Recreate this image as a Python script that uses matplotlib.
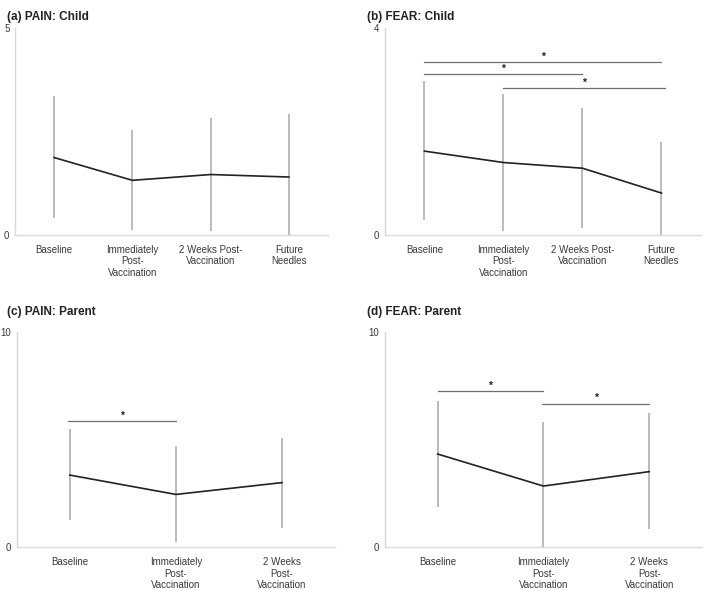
import matplotlib.pyplot as plt

plt.rcParams['font.family'] = ['Liberation Sans', 'DejaVu Sans']

# etiquetas de categorias
cats_child = ["Baseline", "Immediately\nPost-\nVaccination", "2 Weeks Post-\nVaccination", "Future\nNeedles"]
cats_parent = ["Baseline", "Immediately\nPost-\nVaccination", "2 Weeks\nPost-\nVaccination"]

# (a) PAIN: Child
pain_child_mean = [1.87, 1.32, 1.46, 1.40]
pain_child_low = [0.41, 0.13, 0.09, 0.0]
pain_child_high = [3.35, 2.53, 2.83, 2.91]

# (b) FEAR: Child
fear_child_mean = [1.62, 1.40, 1.29, 0.81]
fear_child_low = [0.28, 0.08, 0.14, 0.0]
fear_child_high = [2.97, 2.73, 2.45, 1.80]

# (c) PAIN: Parent
pain_parent_mean = [3.36, 2.46, 3.01]
pain_parent_low = [1.27, 0.23, 0.91]
pain_parent_high = [5.49, 4.71, 5.10]

# (d) FEAR: Parent
fear_parent_mean = [4.34, 2.85, 3.52]
fear_parent_low = [1.89, 0.0, 0.84]
fear_parent_high = [6.80, 5.84, 6.23]

# comparaciones significativas: (desde, hasta, altura)
sig_b = [(0, 3, 3.34), (0, 2, 3.11), (1, 3.05, 2.84)]
sig_c = [(-0.02, 1, 5.87)]
sig_d = [(0, 1, 7.26), (0.99, 2, 6.67)]

fig = plt.figure(figsize=(7.09, 5.91), dpi=100)

paneles = [
    ("(a) PAIN: Child", [0.0212, 0.6024, 0.4415, 0.3503], cats_child, pain_child_mean, pain_child_low, pain_child_high, 5, [], (7, 20)),
    ("(b) FEAR: Child", [0.5430, 0.6024, 0.4457, 0.3503], cats_child, fear_child_mean, fear_child_low, fear_child_high, 4, sig_b, (367, 20)),
    ("(c) PAIN: Parent", [0.0236, 0.0739, 0.4490, 0.3638], cats_parent, pain_parent_mean, pain_parent_low, pain_parent_high, 10, sig_c, (7, 315)),
    ("(d) FEAR: Parent", [0.5426, 0.0739, 0.4477, 0.3638], cats_parent, fear_parent_mean, fear_parent_low, fear_parent_high, 10, sig_d, (367, 315)),
]

for titulo, pos, cats, media, bajo, alto, ymax, sigs, tpos in paneles:
    ax = fig.add_axes(pos)
    x = list(range(len(cats)))
    ax.vlines(x, bajo, alto, color='#a8a8a8', linewidth=1.1, zorder=2)
    ax.plot(x, media, color='#222222', linewidth=1.2, zorder=3)
    for x0, x1, h in sigs:
        ax.plot([x0, x1], [h, h], color='#707070', linewidth=0.9)
        ax.text((x0 + x1) / 2, h + ymax * 0.003, "*", ha='center', va='bottom',
                fontsize=7.5, fontweight='bold', color='#222222')
    ax.set_xlim(-0.5, len(cats) - 0.5)
    ax.set_ylim(0, ymax)
    ax.set_yticks([0, ymax])
    ax.set_xticks(x)
    ax.set_xticklabels(cats, fontsize=7, color='#3a3a3a', linespacing=1.2)
    ax.tick_params(axis='y', length=0, pad=4, labelsize=7, labelcolor='#3a3a3a')
    ax.tick_params(axis='x', length=0, pad=7)
    for s in ['top', 'right']:
        ax.spines[s].set_visible(False)
    for s in ['left', 'bottom']:
        ax.spines[s].set_color('#d9d9d9')
        ax.spines[s].set_linewidth(1.0)
    fig.text(tpos[0] / 709, 1 - tpos[1] / 591, titulo, fontsize=8.5,
             fontweight='bold', color='#222222', ha='left', va='baseline')

plt.savefig("out.png", dpi=100)
